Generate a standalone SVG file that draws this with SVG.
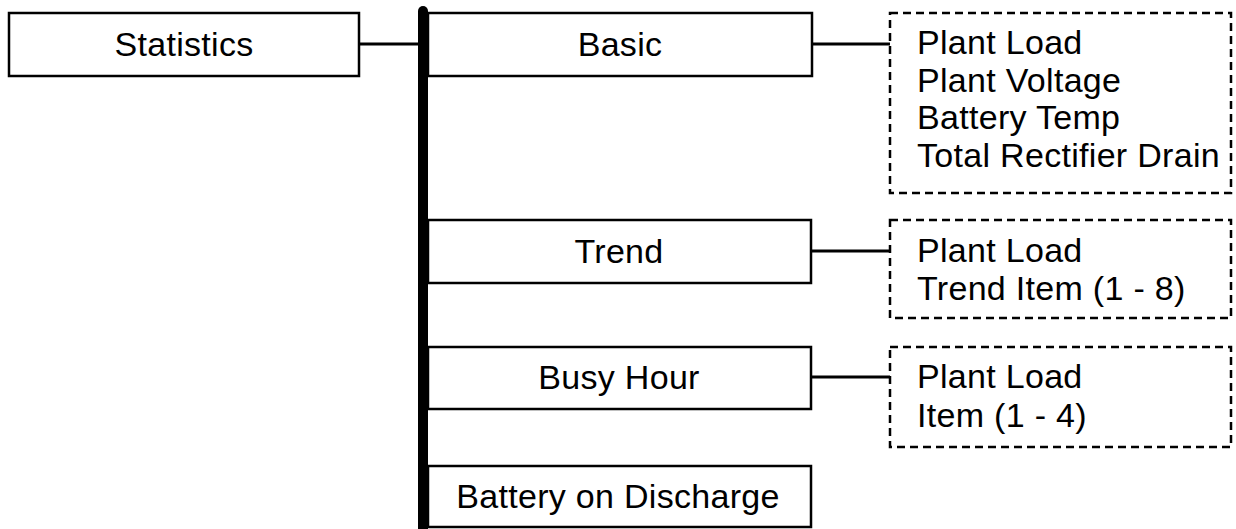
<svg xmlns="http://www.w3.org/2000/svg" width="1236" height="529" viewBox="0 0 1236 529">
<style>
.box{fill:#fff;stroke:#000;stroke-width:2.5}
.dash{fill:none;stroke:#000;stroke-width:2.5;stroke-dasharray:8 5}
.conn{stroke:#000;stroke-width:3;fill:none}
text{font-family:"Liberation Sans",Arial,sans-serif;font-size:34px;letter-spacing:0.3px;fill:#000}
.c{text-anchor:middle}
</style>
<rect width="1236" height="529" fill="#fff"/>
<g id="connectors">
<line class="conn" x1="359" y1="44" x2="420" y2="44"/>
<line class="conn" x1="812" y1="44" x2="890" y2="44"/>
<line class="conn" x1="811" y1="251" x2="890" y2="251"/>
<line class="conn" x1="811" y1="377" x2="890" y2="377"/>
<line x1="423" y1="11" x2="423" y2="540" stroke="#000" stroke-width="10" stroke-linecap="round"/>
</g>
<g id="statistics">
<rect class="box" x="9" y="13" width="350" height="63"/>
<text class="c" x="184" y="56">Statistics</text>
</g>
<g id="basic">
<rect class="box" x="428" y="13" width="384" height="63"/>
<text class="c" x="620" y="56">Basic</text>
</g>
<g id="basic-items">
<rect class="dash" x="890" y="13" width="341" height="180"/>
<text x="917" y="54">Plant Load</text>
<text x="917" y="92">Plant Voltage</text>
<text x="917" y="129">Battery Temp</text>
<text x="917" y="167">Total Rectifier Drain</text>
</g>
<g id="trend">
<rect class="box" x="428" y="220" width="383" height="63"/>
<text class="c" x="619" y="263">Trend</text>
</g>
<g id="trend-items">
<rect class="dash" x="890" y="220" width="341" height="98"/>
<text x="917" y="262">Plant Load</text>
<text x="917" y="300">Trend Item (1 - 8)</text>
</g>
<g id="busy-hour">
<rect class="box" x="428" y="347" width="383" height="62"/>
<text class="c" x="619" y="389">Busy Hour</text>
</g>
<g id="busy-hour-items">
<rect class="dash" x="890" y="347" width="341" height="100"/>
<text x="917" y="388">Plant Load</text>
<text x="917" y="427">Item (1 - 4)</text>
</g>
<g id="battery-on-discharge">
<rect class="box" x="428" y="466" width="383" height="61"/>
<text class="c" x="618" y="508">Battery on Discharge</text>
</g>
</svg>
